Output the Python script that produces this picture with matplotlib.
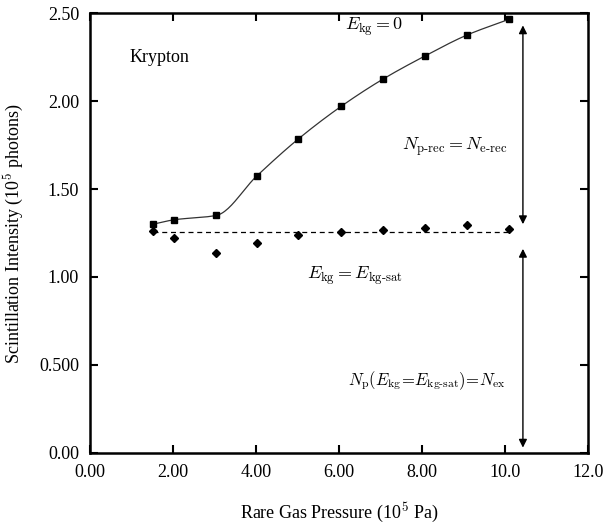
import matplotlib
matplotlib.use("Agg")
import matplotlib.pyplot as plt
import numpy as np

plt.rcParams['font.family'] = ['Liberation Serif', 'DejaVu Serif']
plt.rcParams['mathtext.fontset'] = 'cm'

# data
pressure = [1.52, 2.02, 3.04, 4.02, 5.02, 6.05, 7.06, 8.06, 9.08, 10.1]
n_zero = [1.30, 1.325, 1.35, 1.575, 1.785, 1.97, 2.125, 2.255, 2.375, 2.465]
n_sat = [1.26, 1.22, 1.137, 1.195, 1.238, 1.255, 1.267, 1.278, 1.297, 1.275]
sat_level = 1.256

xticks = [0, 2, 4, 6, 8, 10, 12]
xtick_labels = ['0.00', '2.00', '4.00', '6.00', '8.00', '10.0', '12.0']
yticks = [0, 0.5, 1.0, 1.5, 2.0, 2.5]
ytick_labels = ['0.00', '0.500', '1.00', '1.50', '2.00', '2.50']


def smooth(x, y, n=25):
    # monotone cubic (pchip-like) through the points, only for drawing the line
    x = np.asarray(x, float)
    y = np.asarray(y, float)
    h = np.diff(x)
    d = np.diff(y) / h
    m = np.zeros_like(y)
    for k in range(1, len(x) - 1):
        if d[k - 1] * d[k] > 0:
            w1 = 2 * h[k] + h[k - 1]
            w2 = h[k] + 2 * h[k - 1]
            m[k] = (w1 + w2) / (w1 / d[k - 1] + w2 / d[k])
    m[0] = d[0]
    m[-1] = d[-1]
    t = np.linspace(0, 1, n)
    xs, ys = [], []
    for k in range(len(x) - 1):
        h00 = 2 * t**3 - 3 * t**2 + 1
        h10 = t**3 - 2 * t**2 + t
        h01 = -2 * t**3 + 3 * t**2
        h11 = t**3 - t**2
        xs.extend(x[k] + t * h[k])
        ys.extend(h00 * y[k] + h10 * h[k] * m[k] + h01 * y[k + 1] + h11 * h[k] * m[k + 1])
    return xs, ys


fig = plt.figure(figsize=(6.05, 5.23), dpi=100)
ax = fig.add_axes([0.149, 0.134, 0.823, 0.841])

cx, cy = smooth(pressure, n_zero)
ax.plot(cx, cy, color='#333333', lw=0.9)
ax.plot(pressure, n_zero, 's', color='black', ms=5)
ax.plot([pressure[0], pressure[-1]], [sat_level, sat_level], '--', color='black', lw=0.9, dashes=(4, 3))
ax.plot(pressure, n_sat, 'D', color='black', ms=4.5)

arrow = dict(arrowstyle='<|-|>', color='black', lw=1, mutation_scale=12, shrinkA=0, shrinkB=0)
ax.annotate('', xy=(10.43, 1.30), xytext=(10.43, 2.43), arrowprops=arrow)
ax.annotate('', xy=(10.43, 0.03), xytext=(10.43, 1.16), arrowprops=arrow)

ax.text(0.94, 2.22, 'Krypton', fontsize=13)
ax.text(6.14, 2.405, r'$E_{\mathrm{kg}} = 0$', fontsize=13)
ax.text(7.52, 1.72, r'$N_{\mathrm{p\text{-}rec}} = N_{\mathrm{e\text{-}rec}}$', fontsize=13)
ax.text(5.23, 0.99, r'$E_{\mathrm{kg}} = E_{\mathrm{kg\text{-}sat}}$', fontsize=13)
ax.text(6.22, 0.385, r'$N_{\mathrm{p}}(E_{\mathrm{kg}}\!=\!E_{\mathrm{kg\text{-}sat}})\!=\!N_{\mathrm{ex}}$', fontsize=12)

ax.set_xlim(0, 12)
ax.set_ylim(0, 2.5)
ax.set_xticks(xticks)
ax.set_xticklabels(xtick_labels)
ax.set_yticks(yticks)
ax.set_yticklabels(ytick_labels)
ax.tick_params(direction='in', length=6, width=1.5, top=True, right=True, labelsize=13, pad=8)
for s in ax.spines.values():
    s.set_linewidth(1.8)

ax.set_xlabel('Rare Gas Pressure (10$^5$ Pa)', fontsize=13, labelpad=14)
ax.set_ylabel('Scintillation Intensity (10$^5$ photons)', fontsize=13, labelpad=10)

fig.savefig('out.png', dpi=100)
